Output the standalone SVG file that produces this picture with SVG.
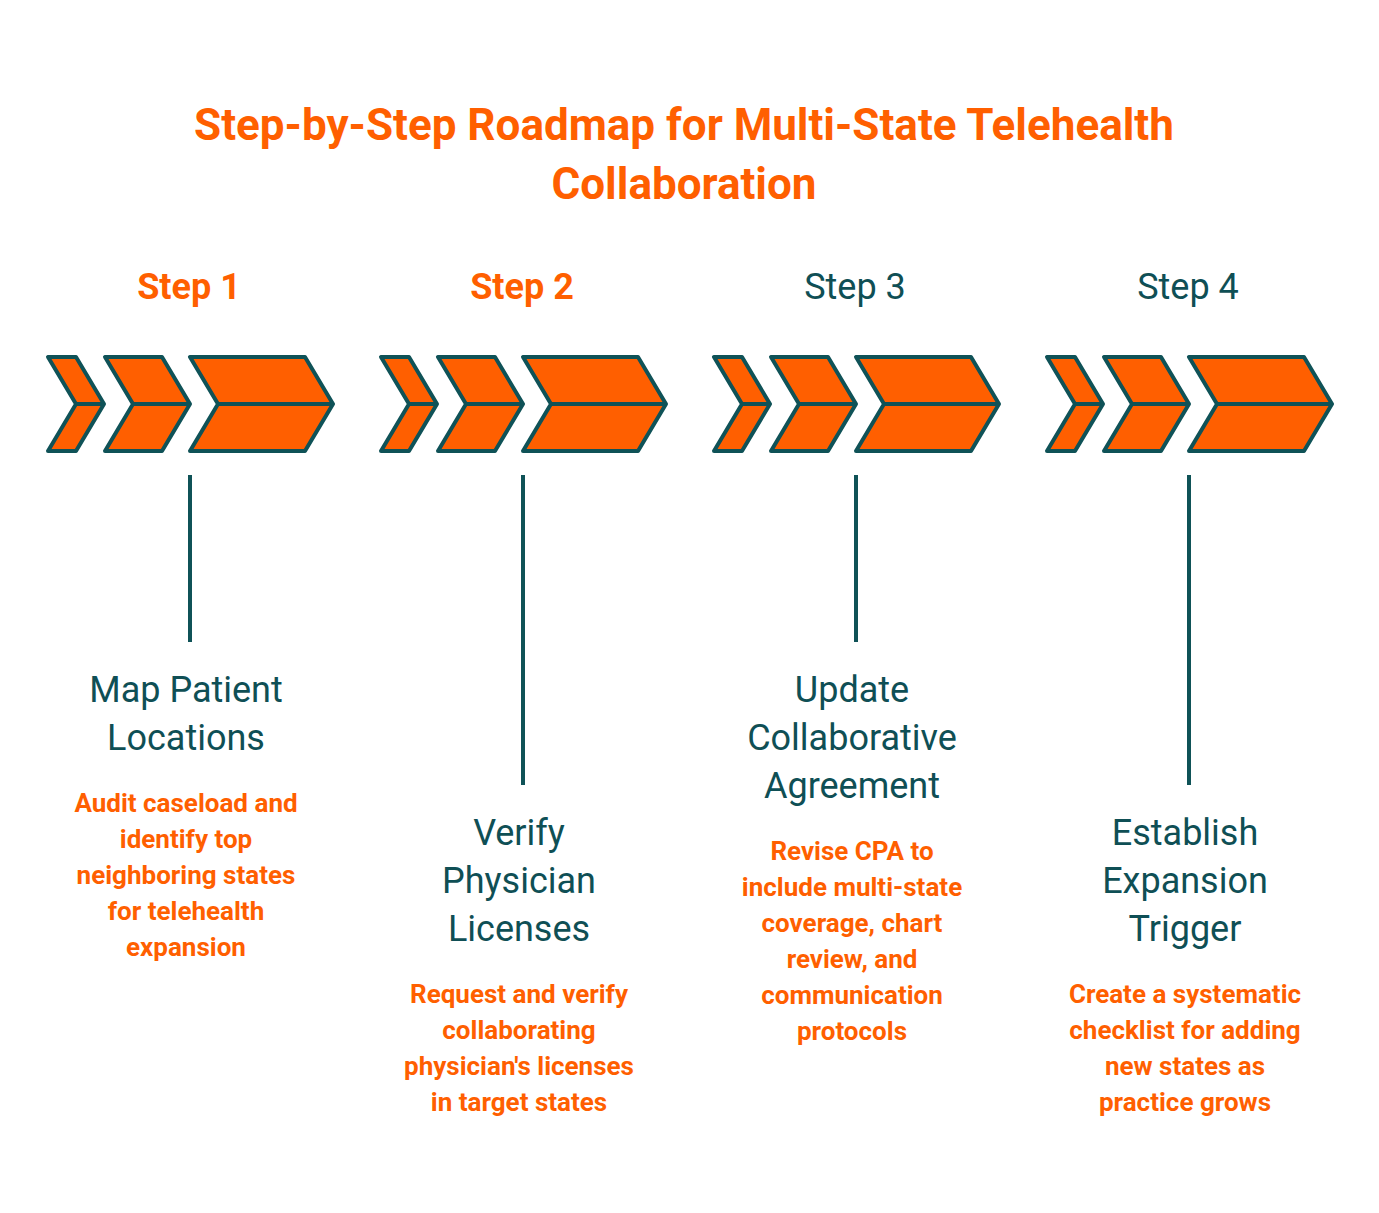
<svg xmlns="http://www.w3.org/2000/svg" width="1379" height="1213" viewBox="0 0 1379 1213">
<style>
text{font-family:Roboto,"Liberation Sans",sans-serif;text-anchor:middle}
.t{font-size:44px;font-weight:bold;fill:#ff5f00}
.so{font-size:36px;font-weight:bold;fill:#ff5f00}
.sd{font-size:36px;fill:#0f4f55}
.h{font-size:36px;fill:#0f4f55}
.d{font-size:26px;font-weight:bold;fill:#ff5f00}
.c{fill:#ff5f00;stroke:#0f5257;stroke-width:4;stroke-linejoin:round}
.ln{stroke:#0f5257;stroke-width:4}
</style>
<defs>
<g id="chev">
<path class="c" d="M48,357H76L104,404L76,451H48L76,404Z M76,404H104"/>
<path class="c" d="M105,357H162L190,404L162,451H105L133,404Z M133,404H190"/>
<path class="c" d="M190,357H305L333,404L305,451H190L218,404Z M218,404H333"/>
</g>
</defs>
<text class="t" x="684" y="140">Step-by-Step Roadmap for Multi-State Telehealth</text>
<text class="t" x="684" y="199">Collaboration</text>
<g id="connectors">
<line class="ln" x1="190" y1="475" x2="190" y2="642"/>
<line class="ln" x1="523" y1="475" x2="523" y2="785"/>
<line class="ln" x1="856" y1="475" x2="856" y2="642"/>
<line class="ln" x1="1189" y1="475" x2="1189" y2="785"/>
</g>
<g id="step1">
<text class="so" x="189" y="299">Step 1</text>
<use href="#chev"/>
<text class="h" x="186" y="702">Map Patient</text>
<text class="h" x="186" y="750">Locations</text>
<text class="d"><tspan x="186" y="812">Audit caseload and</tspan><tspan x="186" y="848">identify top</tspan><tspan x="186" y="884">neighboring states</tspan><tspan x="186" y="920">for telehealth</tspan><tspan x="186" y="956">expansion</tspan></text>
</g>
<g id="step2">
<text class="so" x="522" y="299">Step 2</text>
<use href="#chev" x="333"/>
<text class="h" x="519" y="845">Verify</text>
<text class="h" x="519" y="893">Physician</text>
<text class="h" x="519" y="941">Licenses</text>
<text class="d"><tspan x="519" y="1003">Request and verify</tspan><tspan x="519" y="1039">collaborating</tspan><tspan x="519" y="1075">physician's licenses</tspan><tspan x="519" y="1111">in target states</tspan></text>
</g>
<g id="step3">
<text class="sd" x="855" y="299">Step 3</text>
<use href="#chev" x="666"/>
<text class="h" x="852" y="702">Update</text>
<text class="h" x="852" y="750">Collaborative</text>
<text class="h" x="852" y="798">Agreement</text>
<text class="d"><tspan x="852" y="860">Revise CPA to</tspan><tspan x="852" y="896">include multi-state</tspan><tspan x="852" y="932">coverage, chart</tspan><tspan x="852" y="968">review, and</tspan><tspan x="852" y="1004">communication</tspan><tspan x="852" y="1040">protocols</tspan></text>
</g>
<g id="step4">
<text class="sd" x="1188" y="299">Step 4</text>
<use href="#chev" x="999"/>
<text class="h" x="1185" y="845">Establish</text>
<text class="h" x="1185" y="893">Expansion</text>
<text class="h" x="1185" y="941">Trigger</text>
<text class="d"><tspan x="1185" y="1003">Create a systematic</tspan><tspan x="1185" y="1039">checklist for adding</tspan><tspan x="1185" y="1075">new states as</tspan><tspan x="1185" y="1111">practice grows</tspan></text>
</g>
</svg>
